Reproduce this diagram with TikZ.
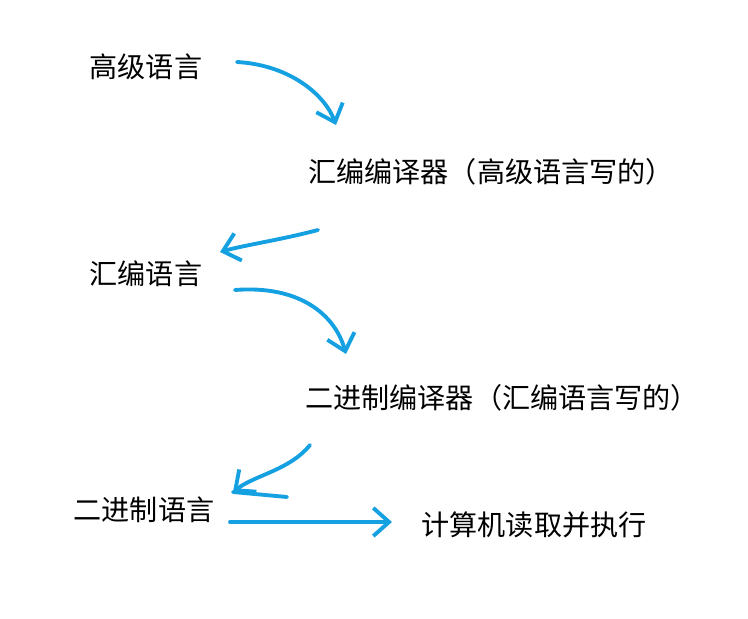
\documentclass[tikz,border=0pt]{standalone}
\usepackage{fontspec}
\newfontfamily\cjk{Noto Sans CJK SC}
\usetikzlibrary{arrows.meta}
\definecolor{pen}{RGB}{20,160,225}
\tikzset{
  lbl/.style={font=\cjk\fontsize{16}{19}\selectfont,inner sep=0pt},
  stroke/.style={pen,line width=2.2pt,line cap=round,line join=round,
    -{Straight Barb[length=9pt,width=16pt,line width=2.2pt]}}
}
\begin{document}
\begin{tikzpicture}[x=0.02cm,y=-0.02cm]
\useasboundingbox (0,0) rectangle (748,619);
% texts
\node[lbl] (hl) at (146,67) {高级语言};
\node[lbl,anchor=west] (ac) at (308,172) {汇编编译器（高级语言写的）};
\node[lbl] (al) at (146,274) {汇编语言};
\node[lbl,anchor=west] (bc) at (305,398) {二进制编译器（汇编语言写的）};
\node[lbl] (bl) at (144,510) {二进制语言};
\node[lbl] (ex) at (534,525) {计算机读取并执行};
% ends of the strokes
\coordinate (a1) at (237,62);  \coordinate (b1) at (336,125);
\coordinate (a2) at (318,230); \coordinate (b2) at (220,252);
\coordinate (a3) at (235,290); \coordinate (b3) at (346,354);
\coordinate (a4) at (310,445); \coordinate (b4) at (233,492);
\coordinate (c4) at (287,497);
\coordinate (a5) at (230,522); \coordinate (b5) at (392,522);
\draw[stroke] (a1) .. controls (290,65) and (325,95) .. (b1);
\draw[stroke] (a2) .. controls (280,240) and (245,245) .. (b2);
\draw[stroke] (a3) .. controls (300,285) and (335,315) .. (b3);
\draw[stroke] (a4) .. controls (290,470) and (255,475) .. (b4);
\draw[pen,line width=2.2pt,line cap=round] (b4) -- (c4);
\draw[stroke] (a5) -- (b5);
\end{tikzpicture}
\end{document}
